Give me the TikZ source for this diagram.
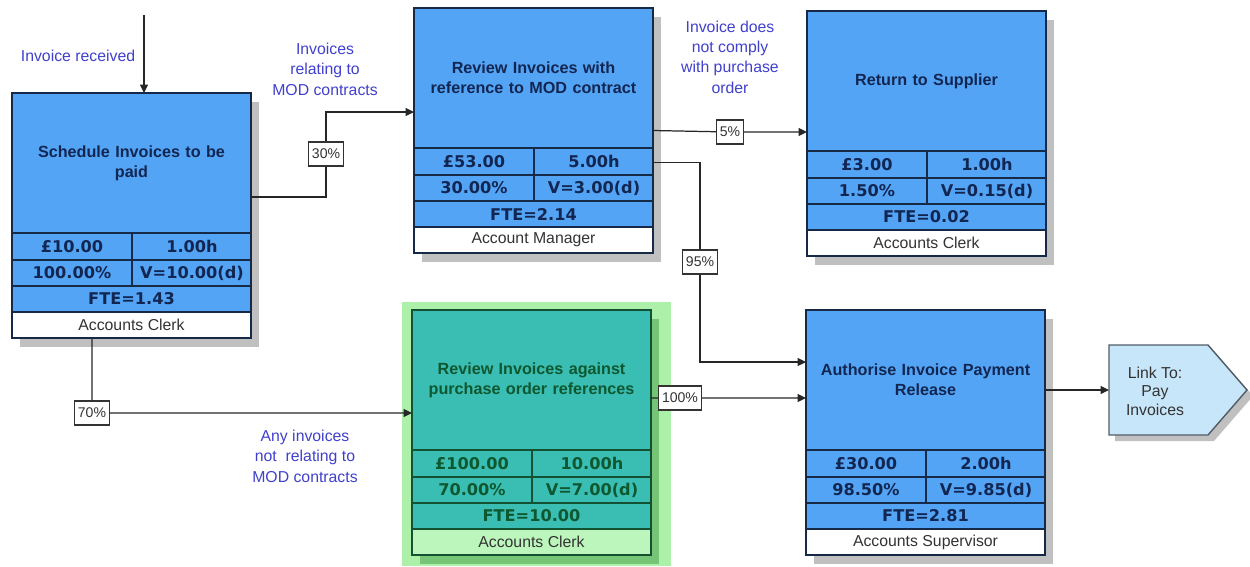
\documentclass[tikz,border=0pt]{standalone}
\usepackage{fontspec}
\setmainfont{Liberation Sans}
\newfontfamily\valfont{DejaVu Sans}
\usetikzlibrary{calc,arrows.meta}
\definecolor{boxblue}{RGB}{84,164,246}
\definecolor{boxline}{RGB}{22,42,72}
\definecolor{boxtext}{RGB}{18,38,82}
\definecolor{shadowgray}{RGB}{192,192,192}
\definecolor{tealfill}{RGB}{58,189,178}
\definecolor{tealline}{RGB}{20,80,50}
\definecolor{tealtext}{RGB}{14,88,48}
\definecolor{rolegreen}{RGB}{188,246,188}
\definecolor{halogreen}{RGB}{172,240,170}
\definecolor{greenshadow}{RGB}{118,196,118}
\definecolor{noteblue}{RGB}{64,64,205}
\definecolor{linkfill}{RGB}{200,230,250}
\definecolor{linkline}{RGB}{80,92,104}
\tikzset{
  procframe/.style={minimum width=4.78cm, minimum height=4.9cm, inner sep=0pt, outer sep=0pt},
  procbody/.style={draw=boxline, line width=0.8pt, fill=boxblue},
  procrole/.style={draw=boxline, line width=0.8pt, fill=white},
  procshadow/.style={fill=shadowgray},
  proctitle/.style={text=boxtext, align=center, text width=4.6cm, font=\fontsize{9.2}{11.4}\selectfont\bfseries},
  procval/.style={text=boxtext, font=\valfont\fontsize{9.2}{10}\selectfont\bfseries},
  procname/.style={text=black!80, font=\fontsize{9}{10}\selectfont},
  pctbox/.style={draw=black!80, fill=white, line width=0.6pt, inner xsep=2pt, inner ysep=0pt, minimum height=0.48cm, text=black!80, font=\fontsize{8}{9}\selectfont},
  note/.style={text=noteblue, align=center, font=\fontsize{9}{11.6}\selectfont},
  flow/.style={draw=black!85, line width=0.7pt, -{Triangle[length=1.7mm,width=1.6mm]}}
}
% name, top left, title, cost, time, share, volume, fte, role
\newcommand{\procbox}[9]{%
  \begin{scope}[shift={#2}]
    \fill[procshadow] (8,9) rectangle (247,254);
    \node[procframe] (#1) at (119.5,122.5) {};
    \draw[procbody] (0,0) rectangle (239,140);
    \draw[procbody] (0,140) rectangle (120,167);
    \draw[procbody] (120,140) rectangle (239,167);
    \draw[procbody] (0,167) rectangle (120,193);
    \draw[procbody] (120,167) rectangle (239,193);
    \draw[procbody] (0,193) rectangle (239,219);
    \draw[procrole] (0,219) rectangle (239,245);
    \node[proctitle] (#1-title) at (119.5,70) {#3};
    \node[procval] (#1-cost) at (60,153.5) {#4};
    \node[procval] (#1-time) at (180,153.5) {#5};
    \node[procval] (#1-share) at (60,180) {#6};
    \node[procval] (#1-vol) at (180,180) {#7};
    \node[procval] (#1-fte) at (119.5,206) {#8};
    \node[procname] (#1-role) at (119.5,232) {#9};
  \end{scope}}

\begin{document}
\begin{tikzpicture}[x=0.02cm, y=-0.02cm]
	\useasboundingbox (0,0) rectangle (1250,566);
	\procbox{sched}{(12,93)}{Schedule Invoices to be\\paid}{£10.00}{1.00h}{100.00\%}{V=10.00(d)}{FTE=1.43}{Accounts Clerk}
	\procbox{mod}{(414,8)}{Review Invoices with\\reference to MOD contract}{£53.00}{5.00h}{30.00\%}{V=3.00(d)}{FTE=2.14}{Account Manager}
	\procbox{ret}{(807,11)}{Return to Supplier}{£3.00}{1.00h}{1.50\%}{V=0.15(d)}{FTE=0.02}{Accounts Clerk}
	\procbox{auth}{(806,310)}{Authorise Invoice Payment\\Release}{£30.00}{2.00h}{98.50\%}{V=9.85(d)}{FTE=2.81}{Accounts Supervisor}
	\fill[halogreen] (402,302) rectangle (671,566);
	\begin{scope}[procbody/.style={draw=tealline, line width=0.8pt, fill=tealfill},
		procrole/.style={draw=tealline, line width=0.8pt, fill=rolegreen},
		procshadow/.style={fill=greenshadow},
		proctitle/.append style={text=tealtext}, procval/.append style={text=tealtext}]
		\procbox{review}{(412,310)}{Review Invoices against\\purchase order references}{£100.00}{10.00h}{70.00\%}{V=7.00(d)}{FTE=10.00}{Accounts Clerk}
	\end{scope}
	% link shape
	\fill[shadowgray] (1115,351) -- (1214,351) -- (1253,396) -- (1214,441) -- (1115,441) -- cycle;
	\draw[fill=linkfill, draw=linkline, line width=0.8pt] (1109,345) -- (1208,345) -- (1247,390) -- (1208,435) -- (1109,435) -- cycle;
	\node[align=center, text=black!80, font=\fontsize{9}{10.5}\selectfont] (linkname) at (1155,391) {Link To:\\Pay\\Invoices};
	\coordinate (linkin) at (1109,390);
	\coordinate (start) at (144,15);
	% percentages
	\node[pctbox] (p30) at (326,154) {30\%};
	\node[pctbox] (p5) at (730,132) {5\%};
	\node[pctbox] (p95) at (700,262) {95\%};
	\node[pctbox] (p70) at (92,413) {70\%};
	\node[pctbox] (p100) at (680,398) {100\%};
	% flows
	\draw[flow] (start) -- (start |- sched.north);
	\draw[flow] ($(sched.north east)+(0,104)$) -| (p30) |- ($(mod.north west)+(0,104)$);
	\draw[flow] ($(sched.south west)+(80,0)$) -- (p70) -- (p70 -| review.west);
	\draw[flow] (mod.east) -- (p5) -- (p5 -| ret.west);
	\draw[flow] ($(mod.east)+(0,32)$) -| (p95) |- ($(auth.north west)+(0,52)$);
	\draw[flow] ($(review.north east)+(0,88)$) -- (p100) -- (p100 -| auth.west);
	\draw[flow] (linkin -| auth.east) -- (linkin);
	% notes
	\node[note] (nrecv) at (78,56) {Invoice received};
	\node[note] (nmod) at (325,69) {Invoices\\relating to\\MOD contracts};
	\node[note] (ncomply) at (730,57) {Invoice does\\not comply\\with purchase\\order};
	\node[note] (nother) at (305,456) {Any invoices\\not\ \ relating to\\MOD contracts};
\end{tikzpicture}
\end{document}
